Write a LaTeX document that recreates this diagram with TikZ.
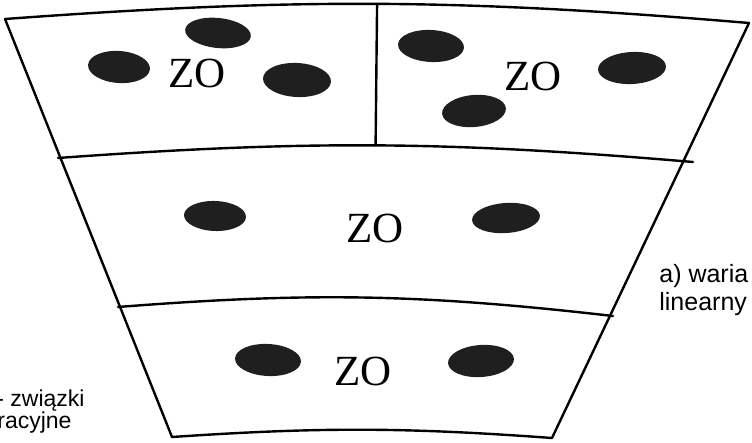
\documentclass[tikz,border=0pt]{standalone}
\usepackage{fontspec}
\setmainfont{Liberation Sans}
\newfontfamily\zofont{Liberation Serif}

\begin{document}
\begin{tikzpicture}[x=0.5pt,y=-0.5pt,
  rim/.style={line width=1.2pt,line join=round,line cap=round},
  blob/.style={fill=black!88},
  zo/.style={font=\zofont\fontsize{21.5}{24}\selectfont,inner sep=0pt},
  note/.style={font=\fontsize{11.5}{13}\selectfont,inner sep=0pt,anchor=base west}]

  \useasboundingbox (0,0) rectangle (752,443);

  % Corners of the sector
  \coordinate (tl) at (5,19);
  \coordinate (tr) at (749,23);
  \coordinate (bl) at (172,437);
  \coordinate (br) at (552,438);
  % Ends of the inner arcs
  \coordinate (a1l) at (58,158);
  \coordinate (a1r) at (693,162);
  \coordinate (a2l) at (118,307);
  \coordinate (a2r) at (613,316);

  % Outline
  \draw[rim] (tl) to[bend left=4.5] coordinate[pos=0.5] (topmid) (tr)
    -- (br) to[bend right=4] (bl) -- cycle;

  % Inner arcs and divider
  \draw[rim] (a1l) to[bend left=4.5] coordinate[pos=0.5] (midmid) (a1r);
  \draw[rim] (a2l) to[bend left=5.5] (a2r);
  \draw[rim] (topmid) -- (midmid);

  % Particles
  \foreach \px/\py/\rx/\ry/\rot in {
      119/67/31/16/-4, 218/33/33/15/-6, 297/80/34/17/-3,
      431/46/33/16/-3, 632/68/34/16/3, 474/111/32/16/5,
      215/216/31/15/-2, 506/218/34/15/4,
      268/360/33/16/-3, 481/361/33/16/4}
    \fill[blob,rotate around={\rot:(\px,\py)}] (\px,\py) ellipse [x radius=\rx,y radius=\ry];

  % ZO labels
  \node[zo] (zo1) at (197,73) {ZO};
  \node[zo] (zo2) at (533,76) {ZO};
  \node[zo] (zo3) at (375,228) {ZO};
  \node[zo] (zo4) at (363,371) {ZO};

  % Side notes
  \node[note,font=\fontsize{12.5}{14}\selectfont] (wariant) at (659,283) {a) waria};
  \node[note,font=\fontsize{12.5}{14}\selectfont] (linear) at (659,311) {linearny};
  \node[note] (zwiazki) at (-4,407) {- związki};
  \node[note] (racyjne) at (-3,429) {racyjne};
\end{tikzpicture}
\end{document}
